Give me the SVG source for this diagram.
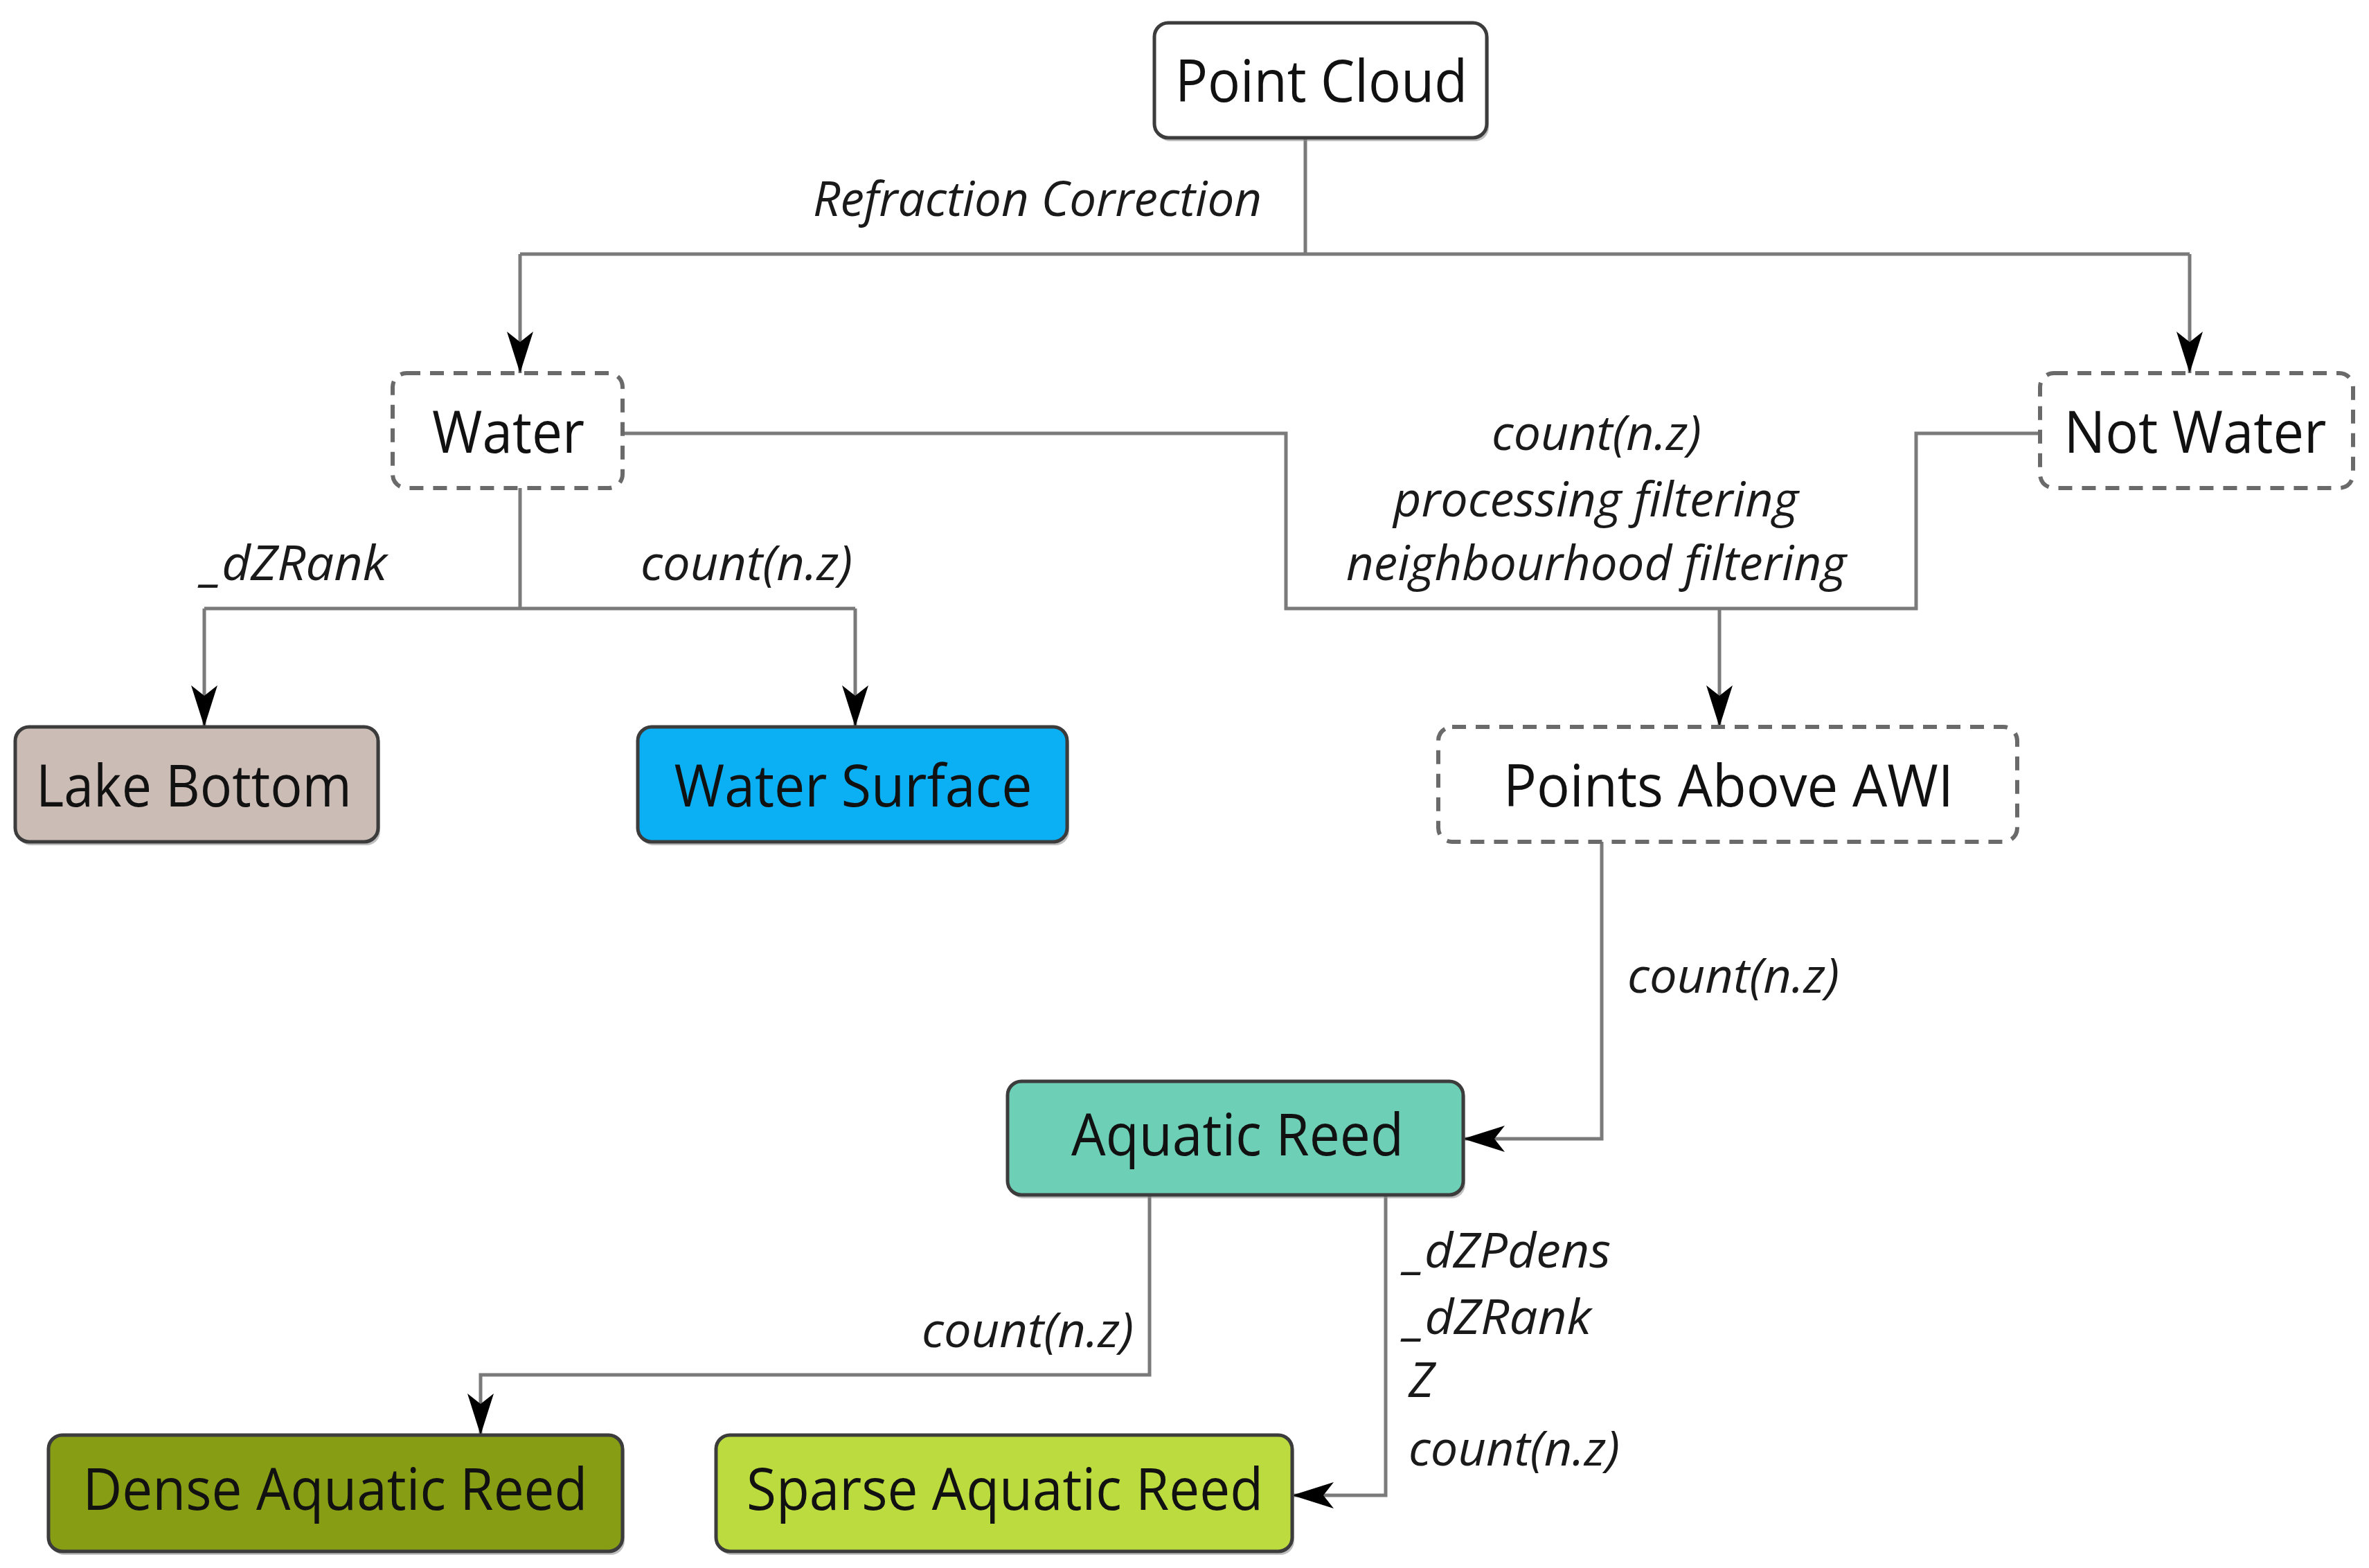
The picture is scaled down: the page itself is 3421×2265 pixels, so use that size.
<svg xmlns="http://www.w3.org/2000/svg" width="3421" height="2265" viewBox="0 0 3421 2265">
<style>
.box{stroke:#3c3c3c;stroke-width:5}
.shadow{fill:#8a8a8a;opacity:0.55}
.dash{fill:#ffffff;stroke:#6a6a6a;stroke-width:6;stroke-dasharray:20 14}
.node{font-family:"Open Sans","Noto Sans","Liberation Sans",sans-serif;font-size:84px;fill:#111111;text-anchor:middle}
.lbl{font-family:"Open Sans","Noto Sans","Liberation Sans",sans-serif;font-size:70px;font-style:italic;fill:#1a1a1a}
.edge{fill:none;stroke:#7a7a7a;stroke-width:5;stroke-linejoin:miter}
</style>
<defs>
<marker id="arr" markerUnits="userSpaceOnUse" markerWidth="62" markerHeight="42" refX="60" refY="20" orient="auto">
<path d="M0,1 L60,20 L0,39 L15,20 Z" fill="#000000"/>
</marker>
</defs>
<rect width="3421" height="2265" fill="#ffffff"/>

<g id="edges">
<path class="edge" d="M1885,199 V367"/>
<path class="edge" d="M751,367 H3162"/>
<path class="edge" d="M751,367 V539" marker-end="url(#arr)"/>
<path class="edge" d="M3162,367 V539" marker-end="url(#arr)"/>
<path class="edge" d="M751,705 V879"/>
<path class="edge" d="M295,879 H1235"/>
<path class="edge" d="M295,879 V1050" marker-end="url(#arr)"/>
<path class="edge" d="M1235,879 V1050" marker-end="url(#arr)"/>
<path class="edge" d="M899,626 H1857 V879 H2767 V626 H2946"/>
<path class="edge" d="M2483,879 V1050" marker-end="url(#arr)"/>
<path class="edge" d="M2313,1216 V1645 H2113" marker-end="url(#arr)"/>
<path class="edge" d="M1660,1726 V1986 H694 V2073" marker-end="url(#arr)"/>
<path class="edge" d="M2001,1726 V2160 H1866" marker-end="url(#arr)"/>
<text class="lbl" x="1174" y="312" textLength="648" lengthAdjust="spacingAndGlyphs">Refraction Correction</text>
<text class="lbl" x="2154" y="650" textLength="303" lengthAdjust="spacingAndGlyphs">count(n.z)</text>
<text class="lbl" x="2012" y="746" textLength="585" lengthAdjust="spacingAndGlyphs">processing filtering</text>
<text class="lbl" x="1944" y="838" textLength="722" lengthAdjust="spacingAndGlyphs">neighbourhood filtering</text>
<text class="lbl" x="292" y="838" textLength="267" lengthAdjust="spacingAndGlyphs">_dZRank</text>
<text class="lbl" x="925" y="838" textLength="306" lengthAdjust="spacingAndGlyphs">count(n.z)</text>
<text class="lbl" x="2350" y="1434" textLength="306" lengthAdjust="spacingAndGlyphs">count(n.z)</text>
<text class="lbl" x="1331" y="1946" textLength="306" lengthAdjust="spacingAndGlyphs">count(n.z)</text>
<text class="lbl" x="2029" y="1831" textLength="297" lengthAdjust="spacingAndGlyphs">_dZPdens</text>
<text class="lbl" x="2029" y="1927" textLength="269" lengthAdjust="spacingAndGlyphs">_dZRank</text>
<text class="lbl" x="2034" y="2018">Z</text>
<text class="lbl" x="2034" y="2117" textLength="305" lengthAdjust="spacingAndGlyphs">count(n.z)</text>
</g>

<g id="point-cloud">
<rect class="shadow" x="1670" y="38" width="480" height="166" rx="20"/>
<rect class="box" x="1667" y="33" width="480" height="166" rx="20" fill="#ffffff"/>
<text class="node" x="1908" y="147" textLength="422" lengthAdjust="spacingAndGlyphs">Point Cloud</text>
</g>

<g id="water">
<rect class="dash" x="567" y="539" width="332" height="166" rx="20"/>
<text class="node" x="734" y="654" textLength="220" lengthAdjust="spacingAndGlyphs">Water</text>
</g>

<g id="not-water">
<rect class="dash" x="2946" y="539" width="452" height="166" rx="20"/>
<text class="node" x="3170" y="654" textLength="379" lengthAdjust="spacingAndGlyphs">Not Water</text>
</g>

<g id="lake-bottom">
<rect class="shadow" x="25" y="1055" width="524" height="166" rx="20"/>
<rect class="box" x="22" y="1050" width="524" height="166" rx="20" fill="#cbbdb5"/>
<text class="node" x="280" y="1165" textLength="456" lengthAdjust="spacingAndGlyphs">Lake Bottom</text>
</g>

<g id="water-surface">
<rect class="shadow" x="924" y="1055" width="620" height="166" rx="20"/>
<rect class="box" x="921" y="1050" width="620" height="166" rx="20" fill="#0bb0f4"/>
<text class="node" x="1232" y="1165" textLength="517" lengthAdjust="spacingAndGlyphs">Water Surface</text>
</g>

<g id="points-above-awi">
<rect class="dash" x="2077" y="1050" width="836" height="166" rx="20"/>
<text class="node" x="2496" y="1165" textLength="650" lengthAdjust="spacingAndGlyphs">Points Above AWI</text>
</g>

<g id="aquatic-reed">
<rect class="shadow" x="1458" y="1567" width="658" height="164" rx="20"/>
<rect class="box" x="1455" y="1562" width="658" height="164" rx="20" fill="#6dcfb5"/>
<text class="node" x="1787" y="1669" textLength="480" lengthAdjust="spacingAndGlyphs">Aquatic Reed</text>
</g>

<g id="dense-aquatic-reed">
<rect class="shadow" x="73" y="2078" width="829" height="168" rx="20"/>
<rect class="box" x="70" y="2073" width="829" height="168" rx="20" fill="#879d14"/>
<text class="node" x="484" y="2181" textLength="729" lengthAdjust="spacingAndGlyphs">Dense Aquatic Reed</text>
</g>

<g id="sparse-aquatic-reed">
<rect class="shadow" x="1037" y="2078" width="832" height="168" rx="20"/>
<rect class="box" x="1034" y="2073" width="832" height="168" rx="20" fill="#bcdb3e"/>
<text class="node" x="1451" y="2181" textLength="746" lengthAdjust="spacingAndGlyphs">Sparse Aquatic Reed</text>
</g>
</svg>
